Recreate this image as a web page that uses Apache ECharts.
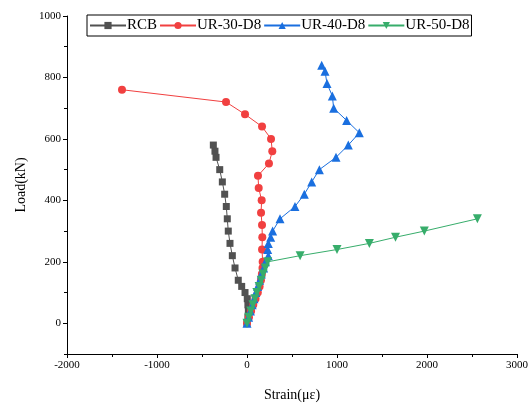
<!DOCTYPE html>
<html>
<head>
<meta charset="utf-8">
<script src="https://cdn.jsdelivr.net/npm/echarts@6/dist/echarts.min.js"></script>
<style>html,body{margin:0;padding:0;background:#fff}#c{width:532px;height:407px}</style>
</head>
<body>
<div id="c"></div>
<script>
// ---- data ----
const seriesNames = ['RCB', 'UR-30-D8', 'UR-40-D8', 'UR-50-D8'];
const rcbLoad   = [0, 20, 40, 60, 80, 100, 120, 140, 180, 220, 260, 300, 340, 380, 420, 460, 500, 540, 560, 580];
const rcbStrain = [0, 10, 15, 10, 3, -22, -59, -97, -133, -163, -189, -208, -219, -230, -248, -274, -303, -344, -356, -374];
const ur30Load   = [0, 20, 40, 60, 80, 100, 120, 140, 160, 180, 200, 240, 280, 320, 360, 400, 440, 480, 520, 560, 600, 640, 680, 720, 760];
const ur30Strain = [0, 22, 46, 70, 95, 120, 140, 155, 165, 172, 174, 167, 170, 167, 156, 163, 130, 122, 244, 281, 267, 167, -22, -233, -1389];
const ur40Load   = [0, 20, 40, 60, 80, 100, 120, 140, 160, 180, 200, 220, 240, 260, 280, 300, 340, 380, 420, 460, 500, 540, 580, 620, 660, 700, 740, 780, 820, 840];
const ur40Strain = [0, 18, 38, 58, 78, 98, 118, 140, 160, 185, 205, 237, 230, 237, 263, 285, 367, 533, 637, 719, 804, 989, 1126, 1248, 1107, 963, 948, 889, 867, 830];
const ur50Load   = [0, 20, 40, 60, 80, 100, 120, 140, 160, 180, 200, 220, 240, 260, 280, 300, 340];
const ur50Strain = [0, 20, 42, 65, 88, 110, 135, 158, 180, 205, 230, 590, 1000, 1360, 1650, 1970, 2560];
const xTicks = [-2000, -1000, 0, 1000, 2000, 3000];
const yTicks = [0, 200, 400, 600, 800, 1000];

function pairs(xs, ys) { return xs.map((x, i) => [x, ys[i]]); }

const colors = ['#515151', '#F14040', '#1A6FDF', '#37AD6B'];
const symbols = ['rect', 'circle', 'triangle', 'path://M0,0 L10,0 L5,9 Z'];
const symbolSizes = [7, 8, 9, 9];
const datasets = [pairs(rcbStrain, rcbLoad), pairs(ur30Strain, ur30Load), pairs(ur40Strain, ur40Load), pairs(ur50Strain, ur50Load)];

const font = 'Liberation Serif';
const plain = v => String(v);
const chart = echarts.init(document.getElementById('c'), null, {renderer: 'canvas'});
chart.setOption({
  animation: false,
  backgroundColor: '#fff',
  grid: {left: 67, right: 15, top: 16, bottom: 49, containLabel: false},
  legend: {
    left: 87, top: 15,
    orient: 'horizontal',
    borderColor: '#000', borderWidth: 1,
    padding: [3, 2, 3, 2],
    itemGap: 2,
    itemWidth: 36, itemHeight: 9,
    textStyle: {fontFamily: font, fontSize: 15, color: '#000', padding: [0, 0, 0, -4]},
    data: seriesNames
  },
  xAxis: {
    type: 'value', min: -2000, max: 3000, interval: 1000,
    name: 'Strain(με)', nameLocation: 'middle', nameGap: 34,
    nameTextStyle: {fontFamily: font, fontSize: 14, color: '#000'},
    axisLine: {onZero: false, lineStyle: {color: '#000', width: 1}},
    axisTick: {show: true, length: 4, lineStyle: {color: '#000'}},
    minorTick: {show: true, splitNumber: 2, length: 3, lineStyle: {color: '#000'}},
    axisLabel: {fontFamily: font, fontSize: 11, color: '#000', margin: 6,
      customValues: xTicks, formatter: plain},
    splitLine: {show: false}
  },
  yAxis: [{
    type: 'value', min: -100, max: 1000,
    name: 'Load(kN)', nameLocation: 'middle', nameGap: 38,
    nameTextStyle: {fontFamily: font, fontSize: 14, color: '#000'},
    axisLine: {show: true, onZero: false, lineStyle: {color: '#000', width: 1}},
    axisTick: {show: true, length: 4, customValues: yTicks, lineStyle: {color: '#000'}},
    axisLabel: {fontFamily: font, fontSize: 11, color: '#000', margin: 6, customValues: yTicks, formatter: plain},
    splitLine: {show: false}
  }, {
    type: 'value', min: -100, max: 1000, interval: 100, position: 'left',
    axisLine: {show: false, onZero: false},
    axisTick: {show: true, length: 3, lineStyle: {color: '#000'}},
    axisLabel: {show: false},
    splitLine: {show: false}
  }],
  series: seriesNames.map((n, i) => ({
    name: n, type: 'line', data: datasets[i],
    yAxisIndex: 0,
    symbol: symbols[i], symbolSize: symbolSizes[i],
    showAllSymbol: true,
    itemStyle: {color: colors[i]},
    lineStyle: {color: colors[i], width: 1},
    z: 2 + (i === 3 ? 3 : i)
  }))
});
</script>
</body>
</html>
